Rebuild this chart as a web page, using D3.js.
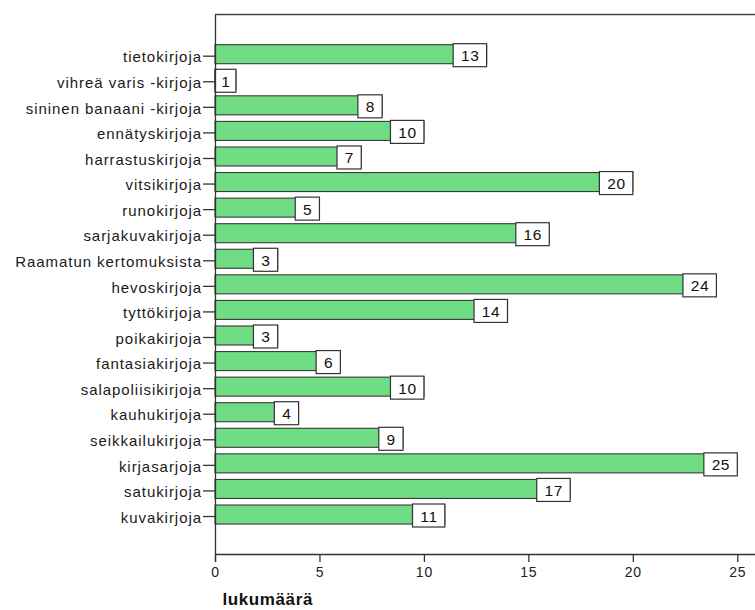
<!DOCTYPE html>
<html>
<head>
<meta charset="utf-8">
<script src="https://cdn.jsdelivr.net/npm/d3@7"></script>
<style>
  html, body { margin: 0; padding: 0; background: #fff; }
  svg { display: block; }
  text { font-family: "Liberation Sans", Arial, sans-serif; }
</style>
</head>
<body>
<svg id="chart" width="755" height="610"></svg>
<script>
// Book genres read by the respondents (counts)
const categories = [
  "tietokirjoja", "vihreä varis -kirjoja", "sininen banaani -kirjoja",
  "ennätyskirjoja", "harrastuskirjoja", "vitsikirjoja", "runokirjoja",
  "sarjakuvakirjoja", "Raamatun kertomuksista", "hevoskirjoja",
  "tyttökirjoja", "poikakirjoja", "fantasiakirjoja", "salapoliisikirjoja",
  "kauhukirjoja", "seikkailukirjoja", "kirjasarjoja", "satukirjoja", "kuvakirjoja"
];
const counts = [13, 1, 8, 10, 7, 20, 5, 16, 3, 24, 14, 3, 6, 10, 4, 9, 25, 17, 11];
const xTicks = [0, 5, 10, 15, 20, 25];
const xTitle = "lukumäärä";

const data = categories.map((c, i) => ({ cat: c, value: counts[i] }));

const svg = d3.select("#chart");
const plotLeft = 215, plotTop = 14, plotBottom = 554, plotRight = 755;

const x = d3.scaleLinear().domain([0, 25]).range([plotLeft, 737.3]);
const y = d3.scaleBand()
  .domain(categories)
  .range([41.4, 527.3])
  .paddingInner(0.257)
  .paddingOuter(0.1285);

// frame: top border
svg.append("line")
  .attr("x1", plotLeft).attr("x2", plotRight)
  .attr("y1", plotTop + 0.5).attr("y2", plotTop + 0.5)
  .attr("stroke", "#444").attr("stroke-width", 1.3);

// bars
svg.append("g").selectAll("rect")
  .data(data).join("rect")
  .attr("x", x(0))
  .attr("y", d => y(d.cat))
  .attr("width", d => x(d.value) - x(0))
  .attr("height", y.bandwidth())
  .attr("fill", "#70dc84")
  .attr("stroke", "#3a3a3a")
  .attr("stroke-width", 1.1);

// value boxes at bar ends, never reaching past the baseline
const lbl = svg.append("g").selectAll("g")
  .data(data).join("g");
lbl.each(function(d) {
  const g = d3.select(this);
  const t = g.append("text")
    .attr("font-size", 15.5)
    .attr("letter-spacing", 0.6)
    .attr("fill", "#111")
    .attr("text-anchor", "middle")
    .attr("dominant-baseline", "central")
    .text(d.value);
  const xr = x(d.value);
  const w = Math.min(t.node().getComputedTextLength() + 15, xr - x(0));
  const h = 23;
  const yt = y(d.cat) - 1;
  g.insert("rect", "text")
    .attr("x", xr - w).attr("y", yt)
    .attr("width", w).attr("height", h)
    .attr("fill", "#fff")
    .attr("stroke", "#333")
    .attr("stroke-width", 1.2);
  t.attr("x", xr - w / 2 + 0.3).attr("y", yt + h / 2 + 0.5);
});

// category axis
const yAxis = svg.append("g")
  .attr("transform", `translate(${plotLeft},0)`)
  .call(d3.axisLeft(y).tickSize(12).tickSizeOuter(0).tickPadding(1));
yAxis.select(".domain").remove();
yAxis.selectAll(".tick line").attr("stroke", "#333").attr("stroke-width", 1.3)
  .attr("transform", "translate(0,2)");
yAxis.selectAll(".tick text")
  .attr("font-size", 15)
  .attr("letter-spacing", 0.95)
  .attr("fill", "#1a1a1a")
  .attr("dy", "0.55em")
  .attr("font-family", "Liberation Sans, Arial, sans-serif");

svg.append("line")
  .attr("x1", plotLeft + 0.5).attr("x2", plotLeft + 0.5)
  .attr("y1", plotTop).attr("y2", plotBottom + 8)
  .attr("stroke", "#333").attr("stroke-width", 1.3);

// value axis
const xAxis = svg.append("g")
  .attr("transform", `translate(0,${plotBottom})`)
  .call(d3.axisBottom(x).tickValues(xTicks).tickSize(8).tickSizeOuter(0).tickPadding(5));
xAxis.select(".domain").remove();
xAxis.selectAll(".tick line").attr("stroke", "#333").attr("stroke-width", 1.3);
xAxis.selectAll(".tick text")
  .attr("font-size", 14)
  .attr("letter-spacing", 0.8)
  .attr("fill", "#222")
  .attr("font-family", "Liberation Sans, Arial, sans-serif");

svg.append("line")
  .attr("x1", plotLeft).attr("x2", plotRight)
  .attr("y1", plotBottom + 0.5).attr("y2", plotBottom + 0.5)
  .attr("stroke", "#333").attr("stroke-width", 1.3);

// axis title
svg.append("text")
  .attr("x", 222.5).attr("y", 605)
  .attr("font-size", 17)
  .attr("font-weight", "bold")
  .attr("letter-spacing", 0.6)
  .attr("fill", "#111")
  .text(xTitle);
</script>
</body>
</html>
